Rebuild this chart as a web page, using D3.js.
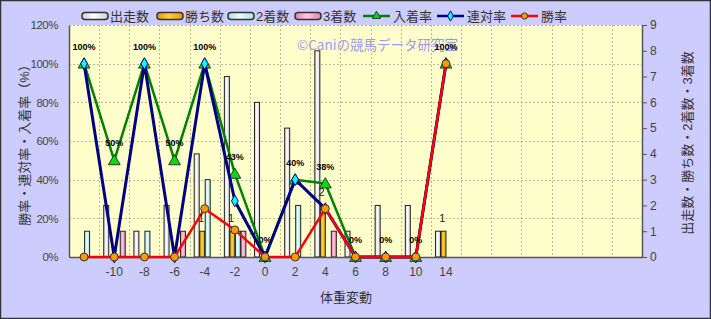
<!DOCTYPE html>
<html>
<head>
<meta charset="utf-8">
<script src="https://cdn.jsdelivr.net/npm/d3@7"></script>
<style>
	body { margin: 0; background: #fff; }
	svg text { font-family: "Liberation Sans", "Noto Sans CJK JP", sans-serif; fill: #333; }
</style>
</head>
<body>
<div id="chart"></div>
<script>
// 体重変動ごとの成績
const categories = ["", "-10", "-8", "-6", "-4", "-2", "0", "2", "4", "6", "8", "10", "14"];
const starts  = [0, 2, 1, 2, 4, 7, 6, 5, 8, 1, 2, 2, 1];   // 出走数
const wins    = [0, 0, 0, 0, 1, 1, 0, 0, 2, 0, 0, 0, 1];   // 勝ち数
const seconds = [1, 0, 1, 0, 3, 1, 0, 2, 0, 0, 0, 0, 0];   // 2着数
const thirds  = [0, 1, 0, 1, 0, 1, 0, 0, 1, 0, 0, 0, 0];   // 3着数
const placeRate = [100, 50, 100, 50, 100, 43, 0, 40, 38, 0, 0, 0, 100]; // 入着率
const top2Rate  = [100, 0, 100, 0, 100, 29, 0, 40, 25, 0, 0, 0, 100];   // 連対率
const winRate   = [0, 0, 0, 0, 25, 14, 0, 0, 25, 0, 0, 0, 100];         // 勝率
const slotCount = 19;
const pctTicks = [0, 20, 40, 60, 80, 100, 120];
const countTicks = [0, 1, 2, 3, 4, 5, 6, 7, 8, 9];

(function() {
	const width = 711,
		height = 319,
		plot = { left: 69, right: 642, top: 25, bottom: 257 };

	const svg = d3.select("#chart").append("svg")
		.attr("width", width)
		.attr("height", height);

	const defs = svg.append("defs");
	const barStyles = [
		{ key: "starts", name: "出走数", data: starts, c1: "#ffffff", c2: "#cfcfcf" },
		{ key: "wins", name: "勝ち数", data: wins, c1: "#ffd040", c2: "#e09a00" },
		{ key: "seconds", name: "2着数", data: seconds, c1: "#e8ffff", c2: "#a8e0e0" },
		{ key: "thirds", name: "3着数", data: thirds, c1: "#ffc8e0", c2: "#e080b0" }
	];
	barStyles.forEach(s => {
		const g = defs.append("linearGradient").attr("id", "grad-" + s.key)
			.attr("x1", 0).attr("x2", 1).attr("y1", 0).attr("y2", 0);
		g.append("stop").attr("offset", "0%").attr("stop-color", s.c2);
		g.append("stop").attr("offset", "45%").attr("stop-color", s.c1);
		g.append("stop").attr("offset", "100%").attr("stop-color", s.c2);
	});

	// background
	svg.append("rect")
		.attr("x", 0.5).attr("y", 0.5)
		.attr("width", width - 1).attr("height", height - 1)
		.attr("fill", "#ccccff")
		.attr("stroke", "#333")
		.attr("stroke-width", 1.5);
	svg.append("rect")
		.attr("x", plot.left).attr("y", plot.top)
		.attr("width", plot.right - plot.left).attr("height", plot.bottom - plot.top)
		.attr("fill", "#ffffcc");

	const x = d3.scaleBand().domain(d3.range(slotCount)).range([plot.left, plot.right]);
	const yPct = d3.scaleLinear().domain([0, 120]).range([plot.bottom, plot.top]);
	const yCnt = d3.scaleLinear().domain([0, 9]).range([plot.bottom, plot.top]);
	const groupW = 22;
	const sub = d3.scaleBand().domain(barStyles.map(s => s.key)).range([0, groupW]);
	const cx = i => x(i) + x.bandwidth() / 2;

	// grid
	const grid = svg.append("g").attr("stroke", "#b8b8a0").attr("stroke-dasharray", "2,2");
	grid.selectAll("line.h")
		.data(pctTicks.filter(d => d > 0))
		.join("line")
		.attr("x1", plot.left).attr("x2", plot.right)
		.attr("y1", d => Math.round(yPct(d)) + 0.5).attr("y2", d => Math.round(yPct(d)) + 0.5);
	grid.selectAll("line.v")
		.data(d3.range(1, slotCount))
		.join("line")
		.attr("x1", d => Math.round(x(d)) + 0.5).attr("x2", d => Math.round(x(d)) + 0.5)
		.attr("y1", plot.top).attr("y2", plot.bottom);

	// bars
	const bars = svg.append("g");
	barStyles.forEach(s => {
		bars.selectAll("rect." + s.key)
			.data(s.data.map((v, i) => ({ v, i })).filter(d => d.v > 0))
			.join("rect")
			.attr("class", s.key)
			.attr("x", d => cx(d.i) - groupW / 2 + sub(s.key) + 0.5)
			.attr("y", d => yCnt(d.v))
			.attr("width", sub.bandwidth() - 0.5)
			.attr("height", d => yCnt(0) - yCnt(d.v))
			.attr("fill", "url(#grad-" + s.key + ")")
			.attr("stroke", "#222")
			.attr("stroke-width", 1);
	});

	// watermark
	svg.append("text")
		.attr("x", 297).attr("y", 50)
		.style("font-family", "'Noto Sans CJK JP', sans-serif")
		.style("font-size", "13.5px")
		.style("fill", "#9a9aee")
		.text("©Caniの競馬データ研究室");

	// axes
	const axisColor = "#555";
	const leftAxis = svg.append("g")
		.attr("transform", `translate(${plot.left},0)`)
		.call(d3.axisLeft(yPct).tickValues(pctTicks).tickFormat(d => d + "%").tickSize(0).tickPadding(11));
	const rightAxis = svg.append("g")
		.attr("transform", `translate(${plot.right},0)`)
		.call(d3.axisRight(yCnt).tickValues(countTicks).tickSizeInner(5).tickSizeOuter(0).tickPadding(3));
	const bottomAxis = svg.append("g")
		.attr("transform", `translate(0,${plot.bottom})`)
		.call(d3.axisBottom(x).tickFormat(i => categories[i] || "").tickSize(0).tickPadding(10));
	[leftAxis, rightAxis, bottomAxis].forEach(a => {
		a.selectAll("path").attr("stroke", axisColor).attr("stroke-width", 1.5);
		a.selectAll("line").attr("stroke", axisColor);
		a.selectAll("text").style("font-size", "12px").style("fill", "#444");
	});
	leftAxis.selectAll("text").style("font-size", "11.5px").style("letter-spacing", "-0.5px");

	// lines
	const lineSeries = [
		{ name: "入着率", data: placeRate, color: "#008000", marker: "triangle", fill: "#00dd00" },
		{ name: "連対率", data: top2Rate, color: "#000080", marker: "diamond", fill: "#00ffff" },
		{ name: "勝率", data: winRate, color: "#ff0000", marker: "circle", fill: "#ff9900" }
	];
	const symbolOf = {
		triangle: d3.symbol().type(d3.symbolTriangle).size(60),
		diamond: d3.symbol().type(d3.symbolDiamond).size(40),
		circle: d3.symbol().type(d3.symbolCircle).size(50)
	};
	const line = d3.line().x(d => cx(d.i)).y(d => yPct(d.v));

	function drawMarker(sel, s) {
		sel.append("path")
			.attr("d", symbolOf[s.marker]())
			.attr("fill", s.fill)
			.attr("stroke", s.marker === "diamond" ? "#000080" : "#333")
			.attr("stroke-width", 1);
	}

	lineSeries.forEach(s => {
		const pts = s.data.map((v, i) => ({ v, i }));
		svg.append("path")
			.datum(pts)
			.attr("d", line)
			.attr("fill", "none")
			.attr("stroke", s.color)
			.attr("stroke-width", s.marker === "diamond" ? 3 : 2.5)
			.attr("stroke-linejoin", "round");
		svg.append("g").selectAll("g")
			.data(pts)
			.join("g")
			.attr("transform", d => `translate(${cx(d.i)},${yPct(d.v) + (s.marker === "triangle" ? 1 : 0)})`)
			.each(function() { drawMarker(d3.select(this), s); });
	});

	// value labels
	svg.append("g").selectAll("text")
		.data(placeRate.map((v, i) => ({ v, i })))
		.join("text")
		.attr("x", d => cx(d.i))
		.attr("y", d => yPct(d.v) - 14)
		.attr("text-anchor", "middle")
		.style("font-size", "9px")
		.style("font-weight", "bold")
		.style("fill", "#000")
		.text(d => d.v + "%");
	svg.append("g").selectAll("text")
		.data(wins.map((v, i) => ({ v, i })).filter(d => d.v > 0))
		.join("text")
		.attr("x", d => cx(d.i) - groupW / 2 + sub("wins") + sub.bandwidth() / 2 - 1)
		.attr("y", d => yCnt(d.v) - 9)
		.attr("text-anchor", "middle")
		.style("font-size", "11px")
		.style("fill", "#222")
		.text(d => d.v);

	// axis titles
	svg.append("text")
		.attr("transform", "translate(29,142) rotate(-90)")
		.attr("text-anchor", "middle")
		.style("font-size", "13px")
		.text("勝率・連対率・入着率（%）");
	svg.append("text")
		.attr("transform", "translate(692,143) rotate(-90)")
		.attr("text-anchor", "middle")
		.style("font-size", "13px")
		.text("出走数・勝ち数・2着数・3着数");
	svg.append("text")
		.attr("x", 346).attr("y", 302)
		.attr("text-anchor", "middle")
		.style("font-size", "13px")
		.text("体重変動");

	// legend
	const legend = svg.append("g");
	const barLegendX = [82, 157, 228, 295];
	barStyles.forEach((s, k) => {
		legend.append("rect")
			.attr("x", barLegendX[k]).attr("y", 12.5)
			.attr("width", 26).attr("height", 7)
			.attr("rx", 3)
			.attr("fill", "url(#grad-" + s.key + ")")
			.attr("stroke", "#333")
			.attr("stroke-width", 1.5);
		legend.append("text")
			.attr("x", barLegendX[k] + 28).attr("y", 21)
			.style("font-size", "13px")
			.text(s.name);
	});
	const lineLegendX = [363, 437, 511];
	lineSeries.forEach((s, k) => {
		const lx = lineLegendX[k];
		legend.append("line")
			.attr("x1", lx).attr("x2", lx + 27)
			.attr("y1", 16).attr("y2", 16)
			.attr("stroke", s.color).attr("stroke-width", 2.5);
		const m = legend.append("g").attr("transform", `translate(${lx + 13.5},16)`);
		m.append("path")
			.attr("d", d3.symbol().type(s.marker === "triangle" ? d3.symbolTriangle : s.marker === "diamond" ? d3.symbolDiamond : d3.symbolCircle).size(30)())
			.attr("fill", s.fill)
			.attr("stroke", s.marker === "diamond" ? "#000080" : "#333");
		legend.append("text")
			.attr("x", lx + 30).attr("y", 21)
			.style("font-size", "13px")
			.text(s.name);
	});
})();
</script>
</body>
</html>
